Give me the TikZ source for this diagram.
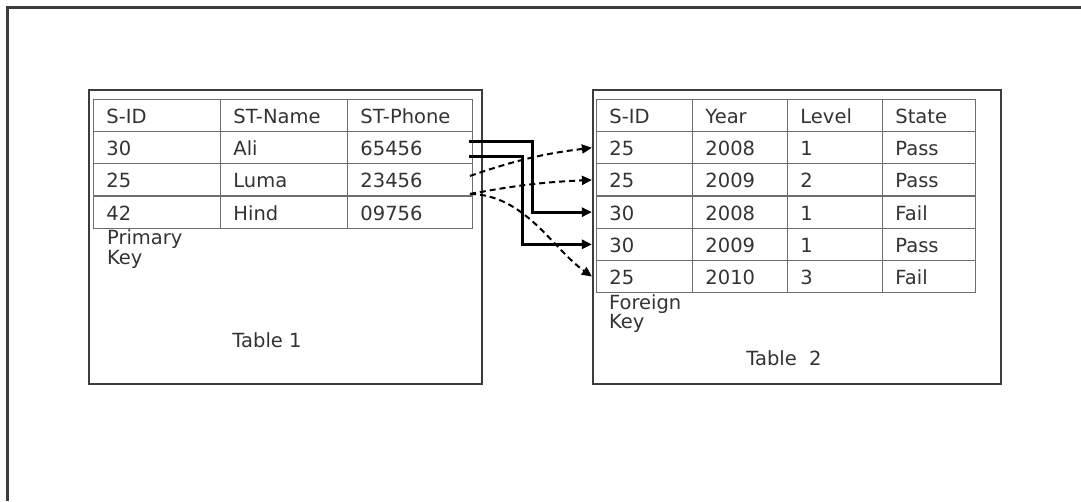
\documentclass[tikz,border=0pt]{standalone}
\usepackage{fontspec}
\setmainfont{DejaVu Sans}
\usetikzlibrary{matrix,arrows.meta,positioning}
\definecolor{ink}{HTML}{333333}
\definecolor{gridline}{HTML}{6E6E6E}
\definecolor{frameline}{HTML}{3C3C3C}
\tikzset{
	cell/.style = { draw=gridline, line width=1.1pt, text=ink, align=left, minimum height=32.2pt, inner xsep=13pt, inner ysep=0pt, text height=18pt, text depth=2pt },
	box/.style = { draw=frameline, line width=2.6pt, inner sep=0pt },
	note/.style = { text=ink, align=left, inner sep=0pt },
	arrow/.style = { line width=3pt, -{Triangle[length=10pt,width=9pt]} },
	dasharrow/.style = { line width=2pt, dash pattern=on 6pt off 4pt, -{Triangle[length=10pt,width=9pt]} },
}

\begin{document}
\begin{tikzpicture}[x=1pt,y=1pt,font=\fontsize{19.5pt}{19.5pt}\selectfont]
\useasboundingbox (0,0) rectangle (1081,501);
\draw[frameline, line width=2.6pt] (7.5,0) |- (1081,493.5);

\node (box1) [box, minimum width=393pt, minimum height=294pt] at (285.5,264) {};
\node (box2) [box, minimum width=408pt, minimum height=294pt] at (797,264) {};

\matrix (t1)
[
matrix of nodes,
inner sep       = 0pt,
column sep      = -1.1pt,
row sep         = -1.1pt,
nodes           = { cell },
column 1/.style = { nodes = { text width=101pt } },
column 2/.style = { nodes = { text width=101pt } },
column 3/.style = { nodes = { text width=99pt } },
below right = 10pt and 5pt of box1.north west,
]
{
	S-ID & ST-Name & ST-Phone \\
	30   & Ali     & 65456    \\
	25   & Luma    & 23456    \\
	42   & Hind    & 09756    \\
};

\matrix (t2)
[
matrix of nodes,
inner sep       = 0pt,
column sep      = -1.1pt,
row sep         = -1.1pt,
nodes           = { cell },
column 1/.style = { nodes = { text width=70pt } },
column 2/.style = { nodes = { text width=69pt } },
column 3/.style = { nodes = { text width=69pt } },
column 4/.style = { nodes = { text width=67pt } },
below right = 10pt and 4pt of box2.north west,
]
{
	S-ID & Year & Level & State \\
	25   & 2008 & 1     & Pass  \\
	25   & 2009 & 2     & Pass  \\
	30   & 2008 & 1     & Fail  \\
	30   & 2009 & 1     & Pass  \\
	25   & 2010 & 3     & Fail  \\
};

\node (pk) [note, below right = 1pt and 14pt of t1-4-1.south west] {Primary\\Key};
\node (fk) [note, below right = 1pt and 13pt of t2-6-1.south west] {Foreign\\Key};
\node (cap1) [note] at (267,161) {Table 1};
\node (cap2) [note] at (784,143) {Table~ 2};

% primary key -> foreign key
\draw[arrow] ([xshift=-4pt,yshift=6pt]t1-2-3.east) -- ++(63pt,0) |- ([xshift=-4pt]t2-4-1.west);
\draw[arrow] ([xshift=-4pt,yshift=-9pt]t1-2-3.east) -- ++(53pt,0) |- ([xshift=-4pt]t2-5-1.west);
\draw[dasharrow] ([xshift=-3pt,yshift=4pt]t1-3-3.east) to[bend left=6] ([xshift=-4pt]t2-2-1.west);
\draw[dasharrow] ([xshift=-3pt,yshift=-14pt]t1-3-3.east) to[bend left=4] ([xshift=-4pt]t2-3-1.west);
\draw[dasharrow] ([xshift=-3pt,yshift=-14pt]t1-3-3.east) .. controls (525,306) and (552,253) .. ([xshift=-4pt]t2-6-1.west);
\end{tikzpicture}
\end{document}
